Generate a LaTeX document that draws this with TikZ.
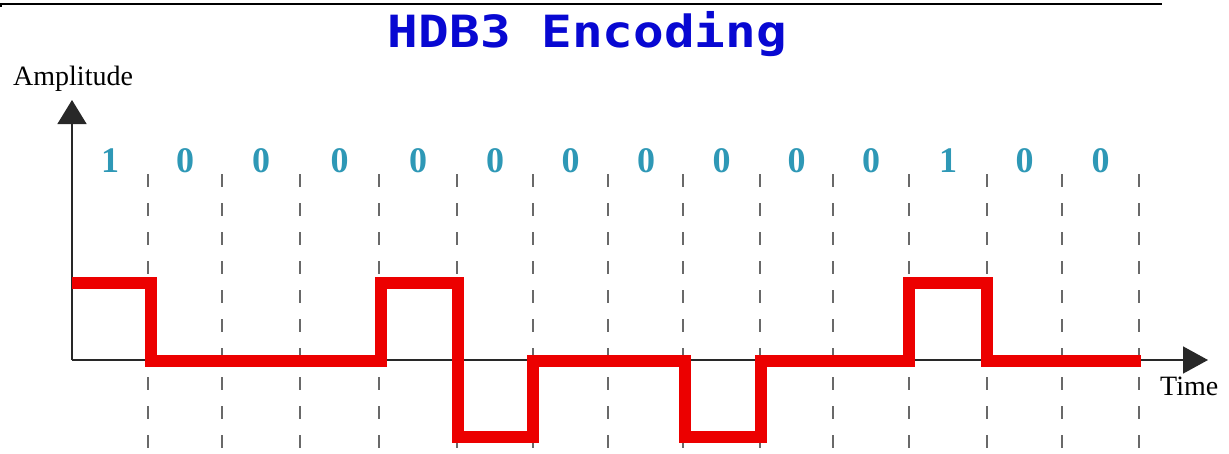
\documentclass[tikz,border=0pt]{standalone}
\usepackage{fontspec}
\setmainfont{Liberation Serif}
\newfontfamily\titlefont{DejaVu Sans Mono}
\usetikzlibrary{arrows.meta}
\definecolor{titleblue}{RGB}{8,8,210}
\definecolor{bitteal}{RGB}{46,152,182}
\definecolor{sigred}{RGB}{236,0,0}
\definecolor{axisgray}{RGB}{40,40,40}
\definecolor{gridgray}{RGB}{105,105,105}
\tikzset{
  axisline/.style={draw=axisgray, line width=1.5pt},
  cellsep/.style={draw=gridgray, line width=1.4pt, dash pattern=on 13pt off 16pt},
  signal/.style={draw=sigred, line width=12.5pt, line join=miter},
  bitlabel/.style={text=bitteal, font=\fontsize{36}{36}\selectfont\bfseries, inner sep=0pt},
  axislabel/.style={font=\fontsize{28}{28}\selectfont, inner sep=0pt, anchor=base west},
}
\begin{document}
\begin{tikzpicture}[x=1pt,y=-1pt]
\useasboundingbox[fill=white] (0,0) rectangle (1229,453);

% rule across the top
\draw[black, line width=2pt] (0,3.5) -- (1162,3.5);
\draw[black, line width=2.5pt] (1.2,3) -- (1.2,7);

% title
\node[anchor=base, inner sep=0pt, text=titleblue] (title) at (587.5,47)
  {\scalebox{1}[0.87]{\titlefont\bfseries\fontsize{51}{51}\selectfont HDB3 Encoding}};

% bit cell boundaries
\foreach \xb in {148,222,300,379,457,533,608,683,760,833,909,987,1062,1139}
  \draw[cellsep] (\xb,174) -- (\xb,453);

% axes
\draw[axisline, -{Triangle[width=29pt,length=24pt]}] (72,360) -- (72,100);
\draw[axisline, -{Triangle[width=27pt,length=25pt]}] (72,360) -- (1208,360);
\node[axislabel] (amp) at (13,85) {Amplitude};
\node[axislabel] (time) at (1160,395) {Time};

% data bits
\foreach \xc/\b [count=\i] in {110/1,185/0,261/0,339.5/0,418/0,495/0,570.5/0,646/0,721.5/0,796.5/0,871/0,948/1,1024.5/0,1100.5/0}
  \node[bitlabel] (bit\i) at (\xc,160.5) {\b};

% HDB3 line signal
\draw[signal] (72,283) -- (151,283) -- (151,361) -- (381,361) -- (381,283)
  -- (458,283) -- (458,437) -- (533,437) -- (533,361) -- (685,361)
  -- (685,437) -- (761,437) -- (761,361) -- (909,361) -- (909,283)
  -- (987,283) -- (987,361) -- (1141,361);
\end{tikzpicture}
\end{document}
